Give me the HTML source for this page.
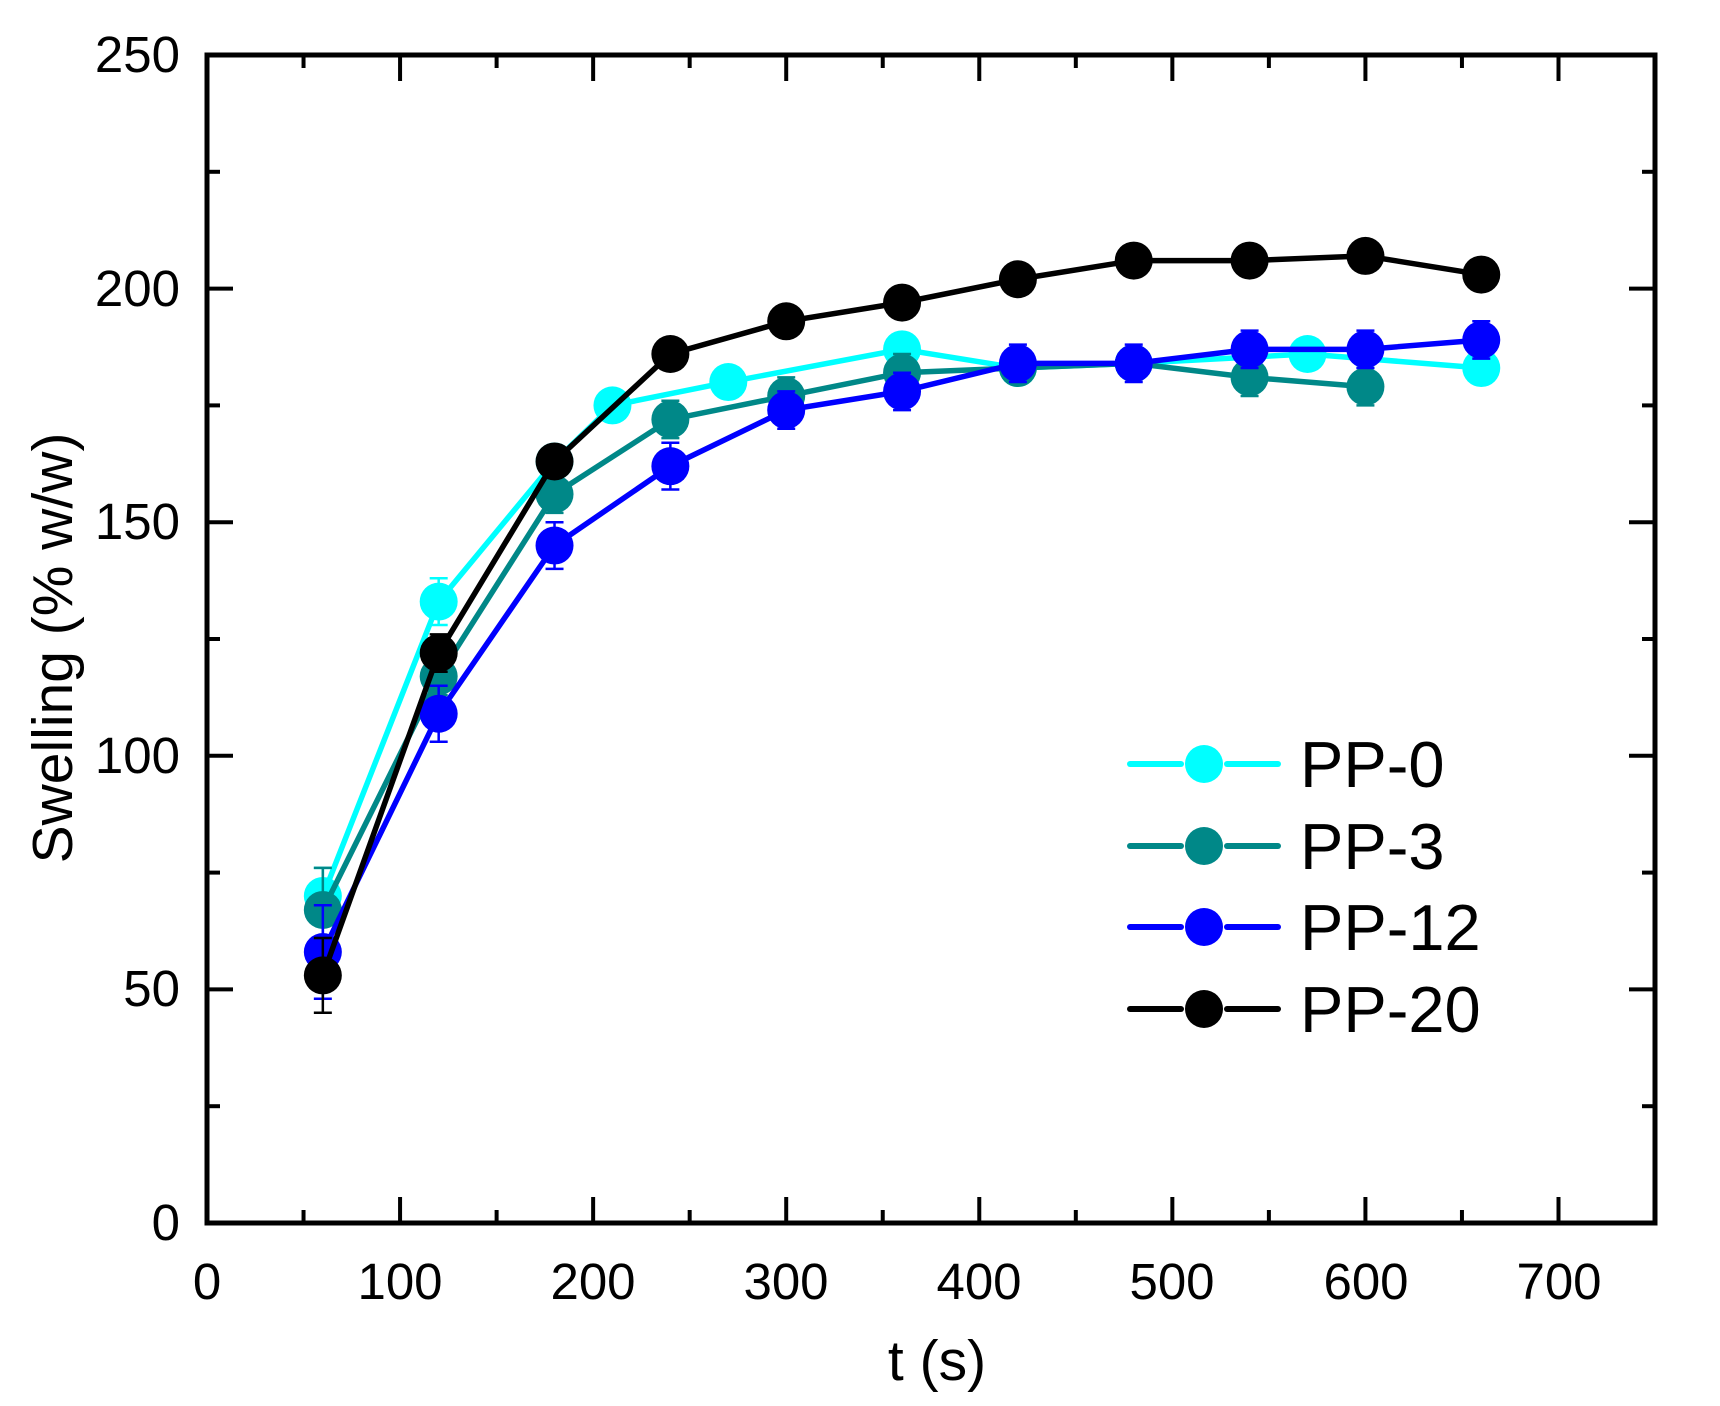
<!DOCTYPE html>
<html><head><meta charset="utf-8"><style>html,body{margin:0;padding:0;background:#fff}svg{display:block}text{font-family:"Liberation Sans",Arial,sans-serif;fill:#000}</style></head>
<body>
<svg id="s" width="1720" height="1406" viewBox="0 0 1720 1406" xmlns="http://www.w3.org/2000/svg">
<g id="ticks" stroke="#000" stroke-width="4"></g>
<g id="data"></g>
<rect x="207" y="55" width="1448" height="1168" fill="none" stroke="#000" stroke-width="5"/>
<g font-size="51" text-anchor="end">
<text x="180" y="1240">0</text><text x="180" y="1006">50</text><text x="180" y="773">100</text>
<text x="180" y="539">150</text><text x="180" y="306">200</text><text x="180" y="72">250</text>
</g>
<g font-size="51" text-anchor="middle">
<text x="207" y="1299">0</text><text x="400" y="1299">100</text><text x="593" y="1299">200</text><text x="786" y="1299">300</text>
<text x="979" y="1299">400</text><text x="1172" y="1299">500</text><text x="1366" y="1299">600</text><text x="1559" y="1299">700</text>
</g>
<text x="937" y="1380" font-size="57" text-anchor="middle">t (s)</text>
<text transform="translate(72,648) rotate(-90)" font-size="57" text-anchor="middle">Swelling (% w/w)</text>
<g id="leg"></g>
<g font-size="65">
<text x="1300" y="787">PP-0</text><text x="1300" y="869">PP-3</text><text x="1300" y="950">PP-12</text><text x="1300" y="1032">PP-20</text>
</g>
</svg>
<script>
const NS="http://www.w3.org/2000/svg";
const X=v=>207+v*1.9307, Y=v=>1223-v*4.672;
function el(p,t,a){const e=document.createElementNS(NS,t);for(const k in a)e.setAttribute(k,a[k]);p.appendChild(e);return e;}
const tk=document.getElementById('ticks');
for(let v=0;v<=750;v+=50){const x=X(v),L=v%100==0?26:13;
 el(tk,'line',{x1:x,y1:1223,x2:x,y2:1223-L});el(tk,'line',{x1:x,y1:55,x2:x,y2:55+L});}
for(let v=0;v<=250;v+=25){const y=Y(v),L=v%50==0?26:13;
 el(tk,'line',{x1:207,y1:y,x2:207+L,y2:y});el(tk,'line',{x1:1655,y1:y,x2:1655-L,y2:y});}
const S=[
 ['#00ffff',[[60,70,6],[120,133,5],[180,163,3],[210,175,3],[270,180,3],[360,187,3],[420,183,3],[480,184,3],[570,186,3],[660,183,3]]],
 ['#008888',[[60,67,9],[120,117,4],[180,156,4],[240,172,4],[300,177,4],[360,182,4],[420,183,3],[480,184,3],[540,181,4],[600,179,4]]],
 ['#0000ff',[[60,58,10],[120,109,6],[180,145,5],[240,162,5],[300,174,4],[360,178,4],[420,184,4],[480,184,4],[540,187,4],[600,187,4],[660,189,4]]],
 ['#000000',[[60,53,8],[120,122,4],[180,163,3],[240,186,3],[300,193,3],[360,197,3],[420,202,3],[480,206,3],[540,206,3],[600,207,3],[660,203,3]]]
];
const g=document.getElementById('data');
S.forEach(([c,d])=>{
 el(g,'polyline',{points:d.map(p=>X(p[0])+','+Y(p[1])).join(' '),fill:'none',stroke:c,'stroke-width':5.5});
 d.forEach(p=>{const x=X(p[0]);
  el(g,'path',{d:`M${x},${Y(p[1]-p[2])}V${Y(p[1]+p[2])}M${x-9},${Y(p[1]-p[2])}h18M${x-9},${Y(p[1]+p[2])}h18`,stroke:c,'stroke-width':2.5,fill:'none'});
  el(g,'circle',{cx:x,cy:Y(p[1]),r:19,fill:c});});
});
const lg=document.getElementById('leg');
[764,846,927,1009].forEach((y,i)=>{const c=S[i][0];
 el(lg,'line',{x1:1130,y1:y,x2:1181,y2:y,stroke:c,'stroke-width':6,'stroke-linecap':'round'});
 el(lg,'line',{x1:1227,y1:y,x2:1278,y2:y,stroke:c,'stroke-width':6,'stroke-linecap':'round'});
 el(lg,'circle',{cx:1204,cy:y,r:19,fill:c});});
</script>
</body></html>
